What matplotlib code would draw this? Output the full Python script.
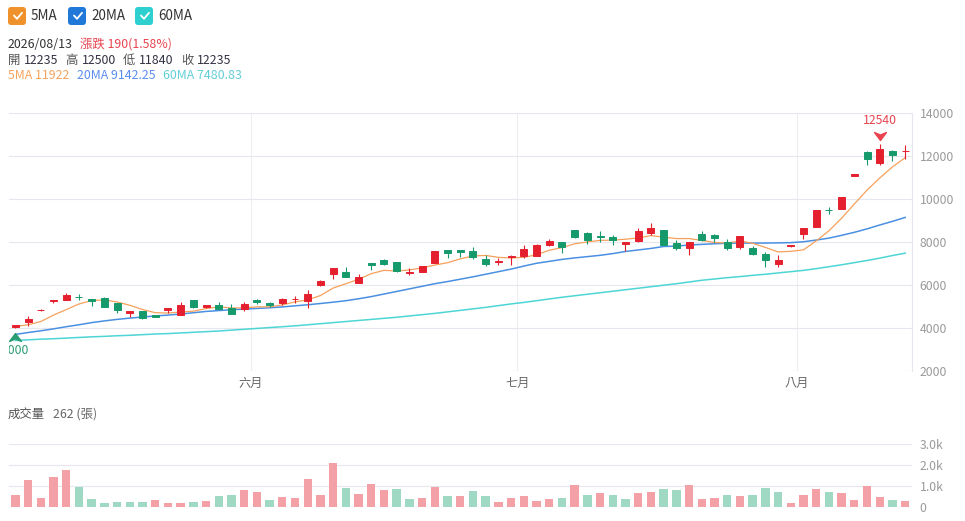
import numpy as np
import matplotlib
matplotlib.use('Agg')
import matplotlib.pyplot as plt
from matplotlib.path import Path
from matplotlib.patches import FancyBboxPatch
from matplotlib.transforms import offset_copy, blended_transform_factory

plt.rcParams['font.family'] = ['Noto Sans CJK TC', 'DejaVu Sans']

# daily candles, oldest first (last day 2026/08/13)
opens = [4050, 4290, 4820, 5270, 5300, 5440, 5350, 5400, 5170, 4700,
         4780, 4600, 4840, 4610, 5300, 4970, 5090, 4930, 4880, 5300,
         5170, 5150, 5330, 5260, 5980, 6490, 6610, 6090, 7020, 7160,
         7050, 6560, 6610, 7030, 7630, 7640, 7570, 7220, 7090, 7310,
         7350, 7350, 7880, 8000, 8550, 8430, 8260, 8210, 7920, 8030,
         8420, 8570, 7960, 7700, 8370, 8310, 8000, 7770, 7720, 7450,
         7000, 7800, 8350, 8700, 9500, 9550, 11070, 12200, 11680, 12250,
         12235]
highs = [4150, 4540, 4870, 5320, 5610, 5590, 5360, 5430, 5180, 4780,
         4800, 4620, 4930, 5190, 5310, 5080, 5190, 5100, 5190, 5340,
         5230, 5390, 5500, 5790, 6210, 6800, 6850, 6520, 7030, 7220,
         7060, 6790, 6880, 7580, 7650, 7650, 7770, 7410, 7260, 7380,
         7850, 7890, 8150, 8010, 8560, 8450, 8530, 8340, 8000, 8650,
         8890, 8580, 8110, 8010, 8500, 8390, 8120, 8290, 7810, 7520,
         7380, 7860, 8640, 9510, 9610, 10100, 11150, 12220, 12540, 12270,
         12500]
lows = [4000, 4100, 4810, 5180, 5280, 5290, 5040, 4970, 4710, 4520,
        4440, 4490, 4680, 4600, 4950, 4950, 4890, 4640, 4800, 5100,
        4990, 5060, 5150, 4940, 5970, 6270, 6350, 6070, 6710, 6950,
        6610, 6470, 6600, 7020, 7240, 7290, 7200, 6880, 6950, 6950,
        7260, 7340, 7810, 7510, 8190, 7890, 8000, 7850, 7600, 8020,
        8340, 7850, 7620, 7380, 8030, 8000, 7650, 7660, 7410, 6840,
        6840, 7750, 8160, 8690, 9290, 9540, 11060, 11600, 11590, 11790,
        11840]
closes = [4120, 4440, 4860, 5310, 5550, 5420, 5250, 4990, 4850, 4770,
          4450, 4500, 4910, 5090, 4960, 5050, 4900, 4660, 5120, 5190,
          5050, 5350, 5360, 5600, 6190, 6790, 6360, 6390, 6910, 6960,
          6640, 6620, 6870, 7570, 7500, 7520, 7290, 6980, 7120, 7370,
          7660, 7880, 8030, 7760, 8250, 8100, 8240, 8070, 7990, 8530,
          8660, 7880, 7740, 7990, 8100, 8190, 7710, 8280, 7420, 7150,
          7140, 7850, 8630, 9500, 9470, 10090, 11140, 11880, 12310, 12045,
          12235]
volumes = [565, 1290, 435, 1450, 1773, 937, 386, 193, 242, 261,
           261, 324, 213, 193, 242, 275, 531, 565, 821, 696,
           338, 483, 435, 1324, 551, 2097, 918, 614, 1082, 792,
           841, 372, 435, 952, 502, 517, 773, 517, 227, 420,
           531, 309, 372, 435, 1063, 580, 662, 565, 372, 662,
           710, 855, 792, 1048, 386, 435, 565, 502, 580, 889,
           710, 193, 580, 855, 710, 676, 324, 1000, 454, 324,
           262]
ma5 = [4070, 4150, 4300, 4600, 4856, 5116, 5278, 5304, 5212, 5056,
       4862, 4712, 4696, 4744, 4782, 4902, 4982, 4932, 4938, 4984,
       4984, 5074, 5214, 5310, 5510, 5858, 6060, 6266, 6528, 6682,
       6652, 6700, 6796, 6928, 7036, 7216, 7350, 7376, 7286, 7256,
       7288, 7406, 7616, 7740, 7916, 8004, 8076, 8084, 8130, 8186,
       8298, 8226, 8160, 8160, 8074, 7980, 7946, 8054, 7940, 7750,
       7538, 7566, 7634, 8050, 8518, 9106, 9764, 10414, 10976, 11491,
       11922]
ma20 = [3700, 3790, 3870, 3960, 4060, 4150, 4250, 4330, 4400, 4460,
        4510, 4560, 4600, 4650, 4710, 4770, 4810, 4850, 4880, 4910,
        4940, 4980, 5030, 5080, 5140, 5200, 5270, 5360, 5460, 5580,
        5700, 5820, 5940, 6060, 6160, 6270, 6380, 6500, 6620, 6740,
        6880, 7010, 7100, 7190, 7260, 7320, 7380, 7460, 7560, 7630,
        7700, 7790, 7810, 7860, 7890, 7920, 7940, 7950, 7950, 7950,
        7960, 7970, 8010, 8090, 8180, 8310, 8450, 8610, 8790, 8960,
        9142.25]
ma60 = [3420, 3450, 3480, 3500, 3530, 3560, 3590, 3610, 3640, 3660,
        3690, 3720, 3740, 3770, 3800, 3830, 3860, 3900, 3940, 3980,
        4020, 4060, 4100, 4150, 4200, 4250, 4300, 4350, 4400, 4450,
        4500, 4560, 4620, 4680, 4750, 4820, 4890, 4960, 5040, 5120,
        5190, 5270, 5350, 5430, 5500, 5570, 5640, 5710, 5780, 5850,
        5920, 5990, 6060, 6140, 6220, 6280, 6340, 6390, 6450, 6500,
        6560, 6620, 6680, 6760, 6850, 6940, 7040, 7140, 7250, 7370,
        7480.83]
month_starts = [19, 40, 62]
month_labels = ['六月', '七月', '八月']
price_ticks = [2000, 4000, 6000, 8000, 10000, 12000, 14000]
vol_ticks = [0, 1000, 2000, 3000]
vol_tick_labels = ['0', '1.0k', '2.0k', '3.0k']

RED = '#E5202E'
GREEN = '#169A6B'
RED_V = '#F3A1A7'
GREEN_V = '#9FD9C4'
C5, C20, C60 = '#F5A15C', '#4A90E2', '#4ED5D5'
GRID = '#E6E6EE'

n = len(closes)
x = np.arange(n)
o = np.array(opens, float)
c = np.array(closes, float)
prev = np.r_[o[0], c[:-1]]
up = (c > o) | ((c == o) & (c >= prev))
candle_col = [RED if u else GREEN for u in up]
vol_col = [RED_V if c[i] >= prev[i] else GREEN_V for i in range(n)]

fig = plt.figure(figsize=(9.65, 5.21), dpi=100)
W, H = 965.0, 521.0
ax = fig.add_axes([9 / W, 1 - 371 / H, 902.5 / W, 258 / H])
axv = fig.add_axes([9 / W, 1 - 507 / H, 902.5 / W, 63 / H])

for a in (ax, axv):
    for s in ['left', 'top', 'bottom']:
        a.spines[s].set_visible(False)
    a.spines['right'].set_color(GRID)
    a.yaxis.tick_right()
    a.tick_params(axis='y', length=0, pad=6, labelcolor='#9a9a9a', labelsize=8.8)
    a.tick_params(axis='x', length=0, labelbottom=False)
    a.set_xlim(-0.5, n - 0.5)
    a.grid(axis='y', color=GRID, lw=0.8)
    a.set_axisbelow(True)
axv.spines['right'].set_visible(False)
for m in month_starts:
    ax.axvline(m - 0.5, color='#EEEEF2', lw=0.8, zorder=0)

# price panel
ax.set_ylim(2000, 14000)
ax.set_yticks(price_ticks)
ax.set_yticklabels([str(t) for t in price_ticks])

ax.plot(x, ma60, color=C60, lw=1.1, zorder=2)
ax.plot(x, ma20, color=C20, lw=1.1, zorder=2)
ax.plot(x, ma5, color=C5, lw=0.9, zorder=2)

ax.vlines(x, lows, highs, colors=candle_col, lw=0.8, zorder=3)
ax.bar(x, c - o, bottom=o, width=0.55, color=candle_col, edgecolor=candle_col,
       lw=0.7, zorder=4)

trans = blended_transform_factory(ax.transData, ax.transAxes)
for m, lab in zip(month_starts, month_labels):
    ax.text(m - 0.5, -0.047, lab, transform=trans, ha='center', va='center',
            fontsize=8.8, color='#666666')

# max / min markers
arrow_dn = Path([(-6, 4), (0, 1.5), (6, 4), (0, -4), (-6, 4)],
                [Path.MOVETO, Path.LINETO, Path.LINETO, Path.LINETO, Path.CLOSEPOLY])
arrow_up = Path([(-6, -4), (0, -1.5), (6, -4), (0, 4), (-6, -4)],
                [Path.MOVETO, Path.LINETO, Path.LINETO, Path.LINETO, Path.CLOSEPOLY])
imax = int(np.argmax(highs))
imin = int(np.argmin(lows))
ax.plot(imax, highs[imax], marker=arrow_dn, ms=8.6, color='#E8434F', zorder=5,
        transform=offset_copy(ax.transData, fig=fig, y=8.5, units='dots'))
ax.annotate(str(highs[imax]), xy=(imax, highs[imax]), xytext=(0, 24),
            textcoords='offset pixels', ha='center', va='center',
            color='#E8434F', fontsize=8.8)
ax.plot(imin, lows[imin], marker=arrow_up, ms=8.6, color='#2A9D72', zorder=5,
        transform=offset_copy(ax.transData, fig=fig, y=-8.5, units='dots'))
t = ax.annotate(str(lows[imin]), xy=(imin, lows[imin]), xytext=(0, -22),
                textcoords='offset pixels', ha='center', va='center',
                color='#2A9D72', fontsize=8.8)
t.set_clip_box(ax.bbox)
t.set_clip_on(True)

# volume panel
axv.set_ylim(0, 3000)
axv.set_yticks(vol_ticks)
axv.set_yticklabels(vol_tick_labels)
axv.bar(x, volumes, width=0.66, color=vol_col, zorder=2)

# header overlay in pixel coordinates
ov = fig.add_axes([0, 0, 1, 1])
ov.set_xlim(0, W)
ov.set_ylim(H, 0)
ov.axis('off')
renderer = fig.canvas.get_renderer()

def put_row(pieces, x0, y, size):
    xx = x0
    for txt, col, gap in pieces:
        tt = ov.text(xx, y, txt, color=col, fontsize=size, ha='left', va='center')
        xx += tt.get_window_extent(renderer).width + gap

legend_items = [('5MA', '#F0922B', 8), ('20MA', '#2079D8', 68), ('60MA', '#2ECFCF', 135)]
for lab, col, bx in legend_items:
    ov.add_patch(FancyBboxPatch((bx + 1.5, 8.5), 15, 15,
                                boxstyle='round,pad=1.5,rounding_size=3',
                                fc=col, ec='none'))
    ov.plot([bx + 6, bx + 9, bx + 14], [15.5, 18.8, 12.8], color='white',
            lw=1.3, solid_capstyle='round', solid_joinstyle='round')
    ov.text(bx + 23, 16.5, lab, color='#333333', fontsize=9.7, ha='left', va='center')

put_row([('2026/08/13', '#333333', 8), ('漲跌 190(1.58%)', '#E8434F', 0)], 7.5, 44.5, 8.9)
put_row([('開', '#555555', 4), ('12235', '#333344', 7), ('高', '#555555', 4),
         ('12500', '#333344', 7), ('低', '#555555', 4), ('11840', '#333344', 7),
         ('收', '#555555', 4), ('12235', '#333344', 0)], 7.5, 60.5, 8.9)
put_row([('5MA 11922', '#F7A35C', 8), ('20MA 9142.25', '#5B8DEF', 8),
         ('60MA 7480.83', '#62CFD6', 0)], 7.5, 75.5, 8.9)
put_row([('成交量', '#555555', 8), ('262 (張)', '#666666', 0)], 7.5, 414.5, 8.9)

fig.savefig('out.png', dpi=100)
